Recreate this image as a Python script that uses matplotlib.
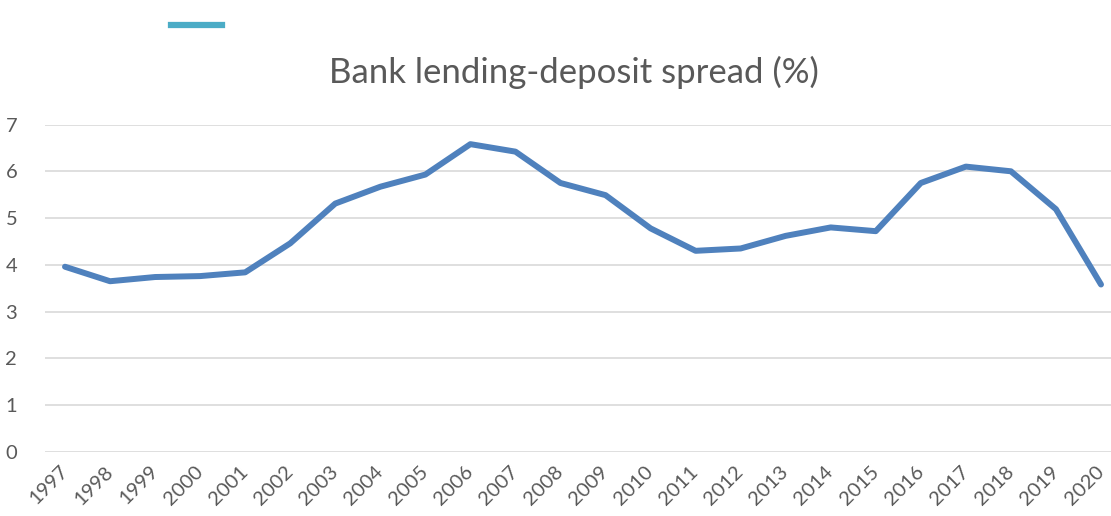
import matplotlib
matplotlib.use('Agg')
import matplotlib.pyplot as plt
from matplotlib.lines import Line2D

plt.rcParams['font.family'] = ['Lato', 'DejaVu Sans']

years = [str(y) for y in range(1997, 2021)]
spread = [3.96, 3.65, 3.74, 3.76, 3.84, 4.46, 5.31, 5.67, 5.93, 6.58, 6.42, 5.75,
          5.49, 4.78, 4.30, 4.35, 4.62, 4.80, 4.72, 5.75, 6.10, 6.00, 5.19, 3.58]
yticks = [0, 1, 2, 3, 4, 5, 6, 7]

txt = '#595959'
fig = plt.figure(figsize=(11.11, 5.16), dpi=100)
ax = fig.add_axes([45/1111, 64/516, 1066/1111, 327.5/516])

x = list(range(len(years)))
ax.plot(x, spread, color='#4f81bd', lw=4.3, solid_capstyle='round',
        solid_joinstyle='round', zorder=3)

ax.set_xlim(-0.444, 23.222)
ax.set_ylim(0, 7)
ax.set_yticks(yticks)
ax.set_yticklabels([str(v) for v in yticks], fontsize=14.5, color=txt)
ax.set_xticks(x)
ax.set_xticklabels(years, fontsize=14.5, color=txt, rotation=45,
                   ha='right', va='center', rotation_mode='anchor')
ax.tick_params(axis='both', length=0)
ax.tick_params(axis='y', pad=20)
ax.tick_params(axis='x', pad=12)
ax.grid(axis='y', color='#d9d9d9', lw=1.2)
ax.set_axisbelow(True)
for s in ax.spines.values():
    s.set_visible(False)

fig.text(574/1111, 1 - 72/516, 'Bank lending-deposit spread (%)', fontsize=25,
         color=txt, ha='center', va='center')

# legend swatch with no label
fig.add_artist(Line2D([171/1111, 222/1111], [1 - 25/516, 1 - 25/516],
                      color='#4bacc6', lw=4.5, transform=fig.transFigure))

fig.savefig('out.png', dpi=100)
